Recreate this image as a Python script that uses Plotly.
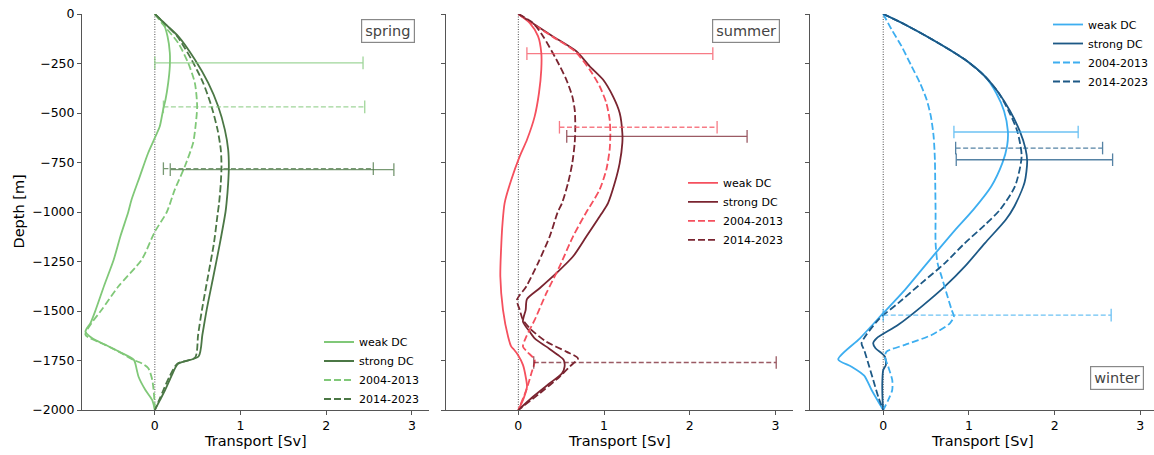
import plotly.graph_objects as go

# ---------------- data (depth in m, transport in Sv) ----------------
TICKS_Y = [0, -250, -500, -750, -1000, -1250, -1500, -1750, -2000]
TICKS_X = [0, 1, 2, 3]
SERIES = ["weak DC", "strong DC", "2004-2013", "2014-2023"]
SEASONS = ["spring", "summer", "winter"]

# spring
spring_weak_depth = [0, -45, -112, -196, -264, -348, -432, -483, -567, -618, -702, -820, -938, -1000, -1120, -1241, -1370, -1494, -1560, -1604, -1638, -1671, -1705, -1747, -1798, -1832, -1899, -1950, -2000]
spring_weak = [0, 0.097, 0.148, 0.175, 0.175, 0.156, 0.125, 0.097, 0.058, 0.008, -0.078, -0.175, -0.272, -0.31, -0.40, -0.48, -0.59, -0.69, -0.75, -0.81, -0.73, -0.575, -0.42, -0.245, -0.21, -0.19, -0.11, -0.03, 0]
spring_strong_depth = [0, -50, -112, -230, -348, -466, -584, -685, -770, -854, -955, -1000, -1157, -1326, -1494, -1620, -1730, -1767, -1832, -1899, -1950, -2000]
spring_strong = [0, 0.12, 0.272, 0.467, 0.623, 0.739, 0.817, 0.856, 0.864, 0.856, 0.837, 0.825, 0.76, 0.683, 0.605, 0.555, 0.51, 0.27, 0.19, 0.12, 0.06, 0]
spring_p1_depth = [0, -50, -146, -247, -348, -466, -567, -651, -770, -887, -1000, -1100, -1241, -1376, -1494, -1562, -1620, -1671, -1705, -1747, -1764, -1789, -1848, -1920, -2000]
spring_p1 = [0, 0.09, 0.272, 0.389, 0.467, 0.494, 0.475, 0.447, 0.35, 0.233, 0.14, 0, -0.154, -0.426, -0.62, -0.74, -0.81, -0.58, -0.42, -0.25, -0.154, -0.076, -0.03, -0.01, 0]
spring_p2_depth = [0, -50, -112, -230, -348, -466, -584, -685, -770, -854, -955, -1014, -1157, -1326, -1494, -1620, -1735, -1767, -1832, -1899, -1950, -2000]
spring_p2 = [0, 0.12, 0.26, 0.428, 0.564, 0.661, 0.732, 0.77, 0.778, 0.77, 0.75, 0.732, 0.69, 0.62, 0.55, 0.505, 0.47, 0.26, 0.17, 0.10, 0.05, 0]

# summer
summer_weak_depth = [0, -45, -112, -196, -281, -399, -517, -635, -719, -837, -955, -1060, -1157, -1326, -1494, -1629, -1680, -1693, -1722, -1772, -1832, -1882, -1941, -2000]
summer_weak = [0, 0.132, 0.23, 0.268, 0.268, 0.241, 0.191, 0.101, 0.016, -0.082, -0.16, -0.185, -0.198, -0.21, -0.179, -0.12, -0.082, -0.054, -0.004, 0.054, 0.086, 0.101, 0.062, 0]
summer_strong_depth = [0, -53, -112, -188, -264, -331, -416, -500, -601, -651, -753, -854, -955, -1009, -1124, -1225, -1309, -1385, -1440, -1494, -1554, -1604, -1638, -1680, -1722, -1747, -1781, -1815, -1865, -1933, -2000]
summer_strong = [0, 0.19, 0.40, 0.677, 0.833, 0.988, 1.105, 1.183, 1.214, 1.214, 1.183, 1.125, 1.047, 0.97, 0.794, 0.638, 0.444, 0.249, 0.101, 0.086, 0.054, 0.132, 0.191, 0.327, 0.463, 0.529, 0.54, 0.51, 0.366, 0.171, 0]
summer_p1_depth = [0, -53, -112, -188, -281, -365, -449, -534, -601, -685, -786, -887, -972, -1000, -1124, -1275, -1410, -1545, -1629, -1680, -1710, -1747, -1815, -1899, -2000]
summer_p1 = [0, 0.18, 0.39, 0.66, 0.833, 0.949, 1.027, 1.066, 1.074, 1.066, 1.027, 0.949, 0.835, 0.795, 0.638, 0.482, 0.327, 0.191, 0.093, 0.054, 0.113, 0.191, 0.152, 0.093, 0]
summer_p2_depth = [0, -45, -112, -230, -331, -416, -483, -567, -651, -753, -854, -955, -1000, -1124, -1258, -1376, -1444, -1494, -1545, -1595, -1655, -1705, -1739, -1781, -1832, -1916, -2000]
summer_p2 = [0, 0.171, 0.288, 0.444, 0.56, 0.63, 0.658, 0.665, 0.658, 0.63, 0.58, 0.51, 0.46, 0.366, 0.23, 0.093, -0.016, 0.016, 0.054, 0.152, 0.327, 0.56, 0.696, 0.6, 0.482, 0.249, 0]

# winter
winter_weak_depth = [0, -53, -146, -230, -315, -400, -490, -593, -668, -753, -871, -989, -1090, -1191, -1292, -1393, -1511, -1638, -1744, -1781, -1826, -1899, -2000]
winter_weak = [0, 0.253, 0.642, 0.953, 1.187, 1.32, 1.41, 1.455, 1.445, 1.39, 1.26, 1.05, 0.84, 0.642, 0.447, 0.253, 0, -0.272, -0.525, -0.37, -0.222, -0.136, 0]
winter_strong_depth = [0, -53, -146, -230, -315, -400, -490, -593, -680, -744, -850, -972, -1039, -1157, -1275, -1376, -1478, -1570, -1638, -1663, -1688, -1713, -1730, -1772, -1798, -1850, -1950, -2000]
winter_strong = [0, 0.253, 0.642, 0.953, 1.187, 1.35, 1.48, 1.595, 1.66, 1.68, 1.65, 1.53, 1.43, 1.187, 0.953, 0.72, 0.447, 0.175, -0.078, -0.117, -0.09, -0.02, 0.02, 0.031, 0, -0.01, -0.008, 0]
winter_p1_depth = [0, -78, -163, -264, -348, -432, -517, -618, -736, -854, -1009, -1157, -1258, -1326, -1410, -1494, -1528, -1562, -1621, -1671, -1705, -1730, -1781, -1848, -1899, -1950, -2000]
winter_p1 = [0, 0.097, 0.214, 0.331, 0.428, 0.506, 0.556, 0.588, 0.603, 0.607, 0.611, 0.611, 0.634, 0.681, 0.739, 0.798, 0.825, 0.778, 0.564, 0.253, 0.039, 0.019, 0.058, 0.105, 0.105, 0.058, 0]
winter_p2_depth = [0, -53, -146, -230, -315, -400, -500, -593, -719, -871, -989, -1065, -1157, -1258, -1359, -1460, -1545, -1663, -1697, -1764, -1848, -1933, -2000]
winter_p2 = [0, 0.253, 0.642, 0.953, 1.187, 1.35, 1.475, 1.565, 1.615, 1.537, 1.362, 1.187, 0.953, 0.72, 0.447, 0.175, -0.058, -0.253, -0.222, -0.175, -0.117, -0.058, 0]

# error bars: depth, low, high  (order: weak DC, strong DC, 2004-2013, 2014-2023)
spring_err_depth = [-247, -786, -469, -781]
spring_err_lo = [0.0, 0.18, 0.10, 0.10]
spring_err_hi = [2.43, 2.79, 2.45, 2.55]
summer_err_depth = [-200, -618, -572, -1760]
summer_err_lo = [0.10, 0.565, 0.48, 0.18]
summer_err_hi = [2.27, 2.67, 2.32, 3.01]
winter_err_depth = [-596, -736, -1521, -677]
winter_err_lo = [0.825, 0.852, 0.0, 0.845]
winter_err_hi = [2.275, 2.677, 2.66, 2.56]

# ---------------- styling ----------------
COLORS = {
    "spring": ("#80c878", "#4b7745"),
    "summer": ("#f5505e", "#7a2430"),
    "winter": ("#3daef0", "#1d5986"),
}
FONT = "DejaVu Sans"
W, H = 1154, 455
AX = "#555555"

panels = [
    dict(season="spring", xa="x", ya="y", leg="legend",
         lines=[(spring_weak, spring_weak_depth), (spring_strong, spring_strong_depth),
                (spring_p1, spring_p1_depth), (spring_p2, spring_p2_depth)],
         err=(spring_err_depth, spring_err_lo, spring_err_hi)),
    dict(season="summer", xa="x2", ya="y2", leg="legend2",
         lines=[(summer_weak, summer_weak_depth), (summer_strong, summer_strong_depth),
                (summer_p1, summer_p1_depth), (summer_p2, summer_p2_depth)],
         err=(summer_err_depth, summer_err_lo, summer_err_hi)),
    dict(season="winter", xa="x3", ya="y3", leg="legend3",
         lines=[(winter_weak, winter_weak_depth), (winter_strong, winter_strong_depth),
                (winter_p1, winter_p1_depth), (winter_p2, winter_p2_depth)],
         err=(winter_err_depth, winter_err_lo, winter_err_hi)),
]

fig = go.Figure()
for p in panels:
    light, dark = COLORS[p["season"]]
    cols = [light, dark, light, dark]
    dashes = ["solid", "solid", "7px,3px", "7px,3px"]
    # zero line
    fig.add_trace(go.Scatter(x=[0, 0], y=[TICKS_Y[0], TICKS_Y[-1]], mode="lines",
                             line=dict(color="black", width=0.7, dash="1px,1.5px"),
                             xaxis=p["xa"], yaxis=p["ya"], showlegend=False, hoverinfo="skip"))
    for (vals, dep), name, c, d in zip(p["lines"], SERIES, cols, dashes):
        fig.add_trace(go.Scatter(x=vals, y=dep, mode="lines", name=name,
                                 line=dict(color=c, width=1.8, dash=d,
                                           shape="spline", smoothing=0.7),
                                 xaxis=p["xa"], yaxis=p["ya"], legend=p["leg"],
                                 hoverinfo="skip"))
    ed, elo, ehi = p["err"]
    for i in range(4):
        fig.add_trace(go.Scatter(x=[elo[i], ehi[i]], y=[ed[i], ed[i]], mode="lines+markers",
                                 line=dict(color=cols[i], width=1.3,
                                           dash="5px,2.5px" if i >= 2 else "solid"),
                                 marker=dict(symbol="line-ns", size=9,
                                             line=dict(color=cols[i], width=1.3)),
                                 opacity=0.75, showlegend=False,
                                 xaxis=p["xa"], yaxis=p["ya"], hoverinfo="skip"))

domains = [(82, 429), (445.5, 792.5), (810.4, 1154)]
ranges = [[-0.85, 3.2], [-0.85, 3.2], [-0.85, 3.16]]

axis_common = dict(showline=True, linecolor=AX, linewidth=1, ticks="outside",
                   ticklen=4, tickwidth=1, tickcolor=AX, showgrid=False, zeroline=False,
                   tickfont=dict(family=FONT, size=12.5, color="black"))

layout = dict(width=W, height=H, paper_bgcolor="white", plot_bgcolor="white",
              margin=dict(l=0, r=0, t=14, b=45),
              font=dict(family=FONT, color="black"))
for i, (dom, rng) in enumerate(zip(domains, ranges)):
    sfx = "" if i == 0 else str(i + 1)
    layout["xaxis" + sfx] = dict(domain=[dom[0] / W, dom[1] / W], range=rng,
                                 tickvals=TICKS_X, anchor="y" + sfx, **axis_common)
    layout["yaxis" + sfx] = dict(domain=[0, 1], range=[-2000, 0], tickvals=TICKS_Y,
                                 anchor="x" + sfx, showticklabels=(i == 0), **axis_common)

PLOT_TOP, PLOT_BOT = 14, 410
def py(ypx):
    return (PLOT_BOT - ypx) / (PLOT_BOT - PLOT_TOP)

leg_common = dict(bgcolor="rgba(0,0,0,0)", borderwidth=0, xanchor="left", yanchor="middle",
                  font=dict(family=FONT, size=11, color="black"), xref="paper", yref="paper")
layout["legend"] = dict(x=319 / W, y=py(370.5), **leg_common)
layout["legend2"] = dict(x=683 / W, y=py(211.3), **leg_common)
layout["legend3"] = dict(x=1048 / W, y=py(53), **leg_common)

annotations = []
season_pos = [(415.3, 19, "top"), (779.7, 19, "top"), (1144, 390, "bottom")]
for s, (xr, yv, anc) in zip(SEASONS, season_pos):
    annotations.append(dict(text=s, xref="paper", yref="paper", x=xr / W, y=py(yv),
                            xanchor="right", yanchor=anc, showarrow=False,
                            font=dict(family=FONT, size=14.5, color="#444444"),
                            bordercolor="#888888", borderwidth=1.2, borderpad=3,
                            bgcolor="white"))
for dom in domains:
    annotations.append(dict(text="Transport [Sv]", xref="paper", yref="paper",
                            x=(dom[0] + dom[1]) / 2 / W, y=py(441), xanchor="center",
                            yanchor="middle", showarrow=False,
                            font=dict(family=FONT, size=14.5, color="black")))
annotations.append(dict(text="Depth [m]", xref="paper", yref="paper", x=18.5 / W,
                        y=py(212), xanchor="center", yanchor="middle", textangle=-90,
                        showarrow=False, font=dict(family=FONT, size=14.5, color="black")))
layout["annotations"] = annotations

fig.update_layout(**layout)
fig.write_html("out.html")
